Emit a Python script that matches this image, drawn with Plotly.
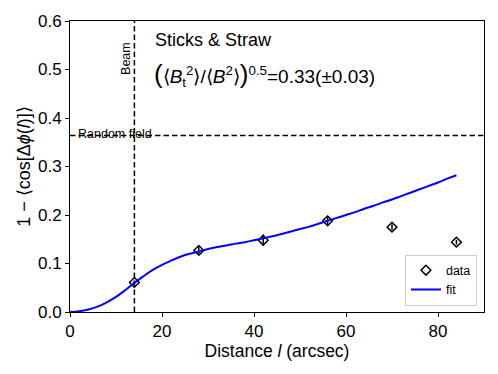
import plotly.graph_objects as go

# measured points (arcsec, 1 - <cos>)
dist = [14, 28, 42, 56, 70, 84]
vals = [0.061, 0.127, 0.148, 0.188, 0.175, 0.144]
errs = [0.004, 0.008, 0.012, 0.008, 0.006, 0.005]

# fitted curve
fit_x = [0, 2, 4, 6, 8, 10, 12, 14, 16, 18, 20, 22, 24, 26, 28, 30, 32, 34, 36, 38, 40, 42,
         44, 46, 48, 50, 52, 54, 56, 58, 60, 62, 64, 66, 68, 70, 72, 74, 76, 78, 80, 82, 84]
fit_y = [0.0, 0.0015, 0.005, 0.011, 0.020, 0.031, 0.045, 0.060, 0.074, 0.087, 0.097, 0.106,
         0.114, 0.120, 0.125, 0.130, 0.134, 0.137, 0.141, 0.144, 0.148, 0.152, 0.156, 0.161,
         0.166, 0.171, 0.176, 0.182, 0.188, 0.194, 0.200, 0.206, 0.213, 0.219, 0.226, 0.232,
         0.239, 0.246, 0.253, 0.260, 0.267, 0.275, 0.282]

beam = 14
random_field = 0.364
FONT = 'Liberation Sans'

fig = go.Figure()
fig.add_trace(go.Scatter(x=[beam, beam], y=[0, 0.6], mode='lines', showlegend=False,
                         line=dict(color='black', width=1.5, dash='5.5px,3px')))
fig.add_trace(go.Scatter(x=[0, 90], y=[random_field, random_field], mode='lines',
                         showlegend=False,
                         line=dict(color='black', width=1.5, dash='5.5px,3px')))
fig.add_trace(go.Scatter(x=dist, y=vals, mode='markers', name='data',
                         error_y=dict(type='data', array=errs, color='black',
                                      thickness=1.5, width=0),
                         marker=dict(symbol='diamond-open', size=7.5, color='black',
                                     line=dict(width=1.5))))
fig.add_trace(go.Scatter(x=fit_x, y=fit_y, mode='lines', name='fit',
                         line=dict(color='#0000ff', width=2, shape='spline')))

fig.add_annotation(x=18, y=0.561, xref='x', yref='y', text='Sticks &amp; Straw',
                   showarrow=False, xanchor='left', yanchor='middle',
                   font=dict(size=18, color='black'))
fig.add_annotation(x=17.9, y=0.49, xref='x', yref='y',
                   text='<span style="font-size:26px">(</span>⟨<i>B</i><sub>t</sub><sup>2</sup>⟩/⟨<i>B</i><sup>2</sup>⟩'
                        '<span style="font-size:26px">)</span><sup>0.5</sup>=0.33(±0.03)',
                   showarrow=False, xanchor='left', yanchor='middle',
                   font=dict(size=19, color='black'))
fig.add_annotation(x=12.3, y=0.523, xref='x', yref='y', text='Beam', textangle=-90,
                   showarrow=False, font=dict(size=12.5, color='black'))
fig.add_annotation(x=1.3, y=0.368, xref='x', yref='y', text='Random field',
                   showarrow=False, xanchor='left', yanchor='middle',
                   font=dict(size=12.5, color='black'))

axis = dict(showgrid=False, zeroline=False, showline=True, linecolor='black', linewidth=1,
            mirror=True, ticks='outside', ticklen=4, tickcolor='black', automargin=False,
            tickfont=dict(size=17, color='black'))
fig.update_xaxes(range=[0, 90], tickvals=[0, 20, 40, 60, 80], **axis,
                 title=dict(text='Distance <i>l</i> (arcsec)', font=dict(size=17.5),
                            standoff=4))
fig.update_yaxes(range=[0, 0.6], tickvals=[0, 0.1, 0.2, 0.3, 0.4, 0.5, 0.6],
                 tickformat='.1f', **axis,
                 title=dict(text='1 − ⟨cos[Δ<i>ϕ</i>(<i>l</i>)]⟩', font=dict(size=18),
                            standoff=2))
# page body adds an 8px margin, so the figure is sized to land where the reference does
fig.update_layout(
    width=490, height=366,
    margin=dict(l=62, r=14, t=13, b=62),
    plot_bgcolor='white', paper_bgcolor='white',
    font=dict(family=FONT, color='black'),
    legend=dict(x=0.983, y=0.022, xanchor='right', yanchor='bottom',
                bgcolor='white', bordercolor='#cccccc', borderwidth=1,
                font=dict(size=12.5), itemwidth=30),
)
fig.write_html('out.html')
